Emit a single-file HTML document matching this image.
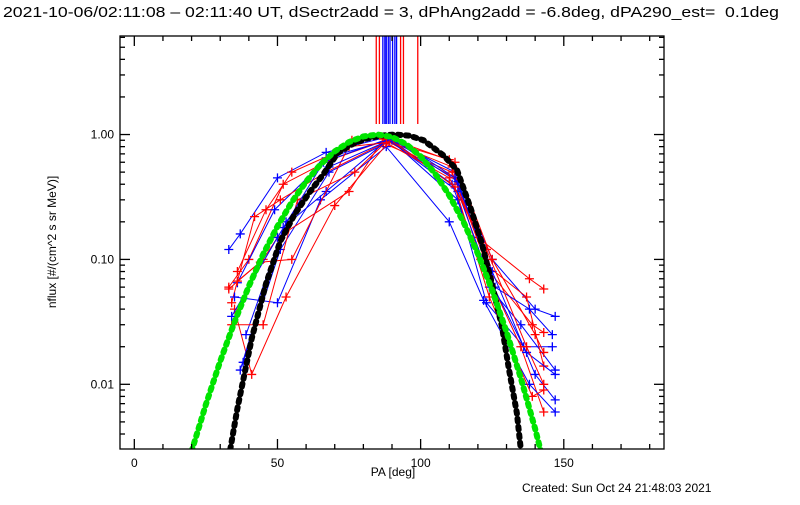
<!DOCTYPE html>
<html><head><meta charset="utf-8"><style>
body{margin:0;background:#fff;width:800px;height:500px;overflow:hidden}
svg text{font-family:"Liberation Sans",sans-serif;fill:#000}
</style></head><body>
<svg id="c" width="800" height="500" xmlns="http://www.w3.org/2000/svg">
<text x="3" y="17" font-size="15" textLength="776" lengthAdjust="spacingAndGlyphs" xml:space="preserve">2021-10-06/02:11:08 – 02:11:40 UT, dSectr2add = 3, dPhAng2add = -6.8deg, dPA290_est=  0.1deg</text>
<text x="393" y="476" font-size="12" text-anchor="middle">PA [deg]</text>
<text transform="translate(56,242) rotate(-90)" font-size="12" text-anchor="middle">nflux [#/(cm^2 s sr MeV)]</text>
<text x="522" y="492" font-size="12">Created: Sun Oct 24 21:48:03 2021</text>
<g id="plot"></g>
</svg>
<script>
const xTicks=[0,50,100,150];
const yTicks=[0.01,0.1,1];
const yTickLabels=["0.01","0.10","1.00"];
const vLineRed=[84.5,85.6,93.0,94.0,99.0];
const vLineBlue=[86.8,87.5,88.0,88.7,89.3,90.2,91.0,91.6];
const blueSeries=[
[[33,0.12],[37,0.16],[50,0.45],[67,0.72],[88,0.95],[112,0.5],[125,0.1],[140,0.04],[147,0.035]],
[[36,0.065],[49,0.25],[66,0.6],[89,0.93],[113,0.3],[123,0.045],[136,0.02],[146,0.02]],
[[38,0.015],[51,0.12],[68,0.5],[90,0.9],[111,0.4],[124,0.06],[135,0.03],[147,0.013]],
[[35,0.05],[50,0.045],[65,0.3],[88,0.8],[110,0.2],[122,0.047],[138,0.01],[147,0.006]],
[[37,0.013],[52,0.18],[67,0.35],[90,0.97],[112,0.45],[125,0.08],[140,0.012],[147,0.0075]],
[[39,0.025],[53,0.2],[68,0.55],[89,0.9],[113,0.35],[124,0.07],[137,0.018],[147,0.012]],
[[34,0.035],[50,0.15],[67,0.65],[90,0.92],[113,0.42],[126,0.06],[138,0.04],[146,0.025]]
];
const redSeries=[
[[33,0.06],[40,0.1],[52,0.4],[68,0.62],[88,0.9],[110,0.63],[120,0.15],[138,0.07],[143,0.058]],
[[34,0.045],[42,0.22],[51,0.3],[67,0.5],[87,0.85],[111,0.5],[124,0.08],[139,0.03],[143,0.026]],
[[33,0.058],[45,0.1],[50,0.15],[75,0.35],[87,0.92],[112,0.45],[121,0.1],[135,0.02],[143,0.006]],
[[35,0.04],[41,0.012],[53,0.05],[70,0.27],[89,0.88],[111,0.55],[123,0.09],[137,0.05],[143,0.014]],
[[36,0.067],[44,0.095],[55,0.1],[76,0.9],[88,0.95],[112,0.6],[125,0.1],[140,0.025],[143,0.018]],
[[34,0.03],[45,0.03],[57,0.3],[77,0.5],[89,0.92],[112,0.38],[124,0.05],[139,0.008],[143,0.009]],
[[36,0.08],[46,0.25],[55,0.5],[75,0.8],[88,0.86],[110,0.45],[123,0.12],[137,0.02],[143,0.01]]
];
const greenPA=[20,25,30,35,40,45,50,55,60,65,70,75,80,85,90,95,100,105,110,115,120,125,130,135,140,142];
const greenVal=[0.0029,0.0069,0.0153,0.0316,0.061,0.11,0.184,0.288,0.42,0.575,0.733,0.871,0.966,1.0,0.956,0.836,0.668,0.488,0.326,0.199,0.111,0.0565,0.0263,0.0112,0.0044,0.0029];
const blackPA=[33.5,36,41,46,51,56,61,66,71,76,81,86,91,96,101,108,112.7,117.4,121.4,124.9,128.4,130.7,133.6,135];
const blackVal=[0.003,0.0064,0.0232,0.064,0.14,0.23,0.34,0.48,0.71,0.834,0.927,0.98,1.0,0.98,0.9,0.68,0.52,0.26,0.134,0.064,0.029,0.0138,0.0059,0.003];

const L=120,R=664,T=36,B=449,XMIN=-5,XMAX=185,YLMIN=-2.518,YLMAX=0.789;
const X=v=>L+(v-XMIN)/(XMAX-XMIN)*(R-L);
const Y=v=>B-(Math.log10(v)-YLMIN)/(YLMAX-YLMIN)*(B-T);
const NS="http://www.w3.org/2000/svg";
const g=document.getElementById('plot');
function mk(tag,attrs,parent){const e=document.createElementNS(NS,tag);for(const k in attrs)e.setAttribute(k,attrs[k]);(parent||g).appendChild(e);return e;}

const clip=mk('clipPath',{id:'clp'});mk('rect',{x:L,y:T,width:R-L,height:B-T},clip);
const data=mk('g',{'clip-path':'url(#clp)'});



vLineRed.forEach(p=>{const l=mk('line',{x1:X(p),x2:X(p),y1:T,y2:124,stroke:'#f00','stroke-width':1.3},data);

});
vLineBlue.forEach(p=>{const l=mk('line',{x1:X(p),x2:X(p),y1:T,y2:124,stroke:'#00f','stroke-width':1.3},data);

});

function series(arr,col,name){
  const sg=mk('g',{},data);
  
  
  mk('polyline',{points:arr.map(p=>X(p[0])+','+Y(p[1])).join(' '),fill:'none',stroke:col,'stroke-width':1},sg);
  arr.forEach(p=>{const x=X(p[0]),y=Y(p[1]);
    const m=mk('path',{d:`M${x-4.5},${y}H${x+4.5}M${x},${y-4.5}V${y+4.5}`,stroke:col,'stroke-width':1.3},sg);
    
    });
}
const order=[];for(let i=0;i<7;i++){order.push(['b',i]);order.push(['r',i]);}
order.forEach(o=>{if(o[0]=='b')series(blueSeries[o[1]],'#00f','blue-series');else series(redSeries[o[1]],'#f00','red-series');});

function fit(pa,val,col,name){
  const p=mk('polyline',{points:pa.map((a,i)=>X(a)+','+Y(val[i])).join(' '),fill:'none',stroke:col,'stroke-width':6,'stroke-linecap':'round','stroke-dasharray':'3 5'},data);
  
  
}
fit(blackPA,blackVal,'#000','black-fit-curve');
fit(greenPA,greenVal,'#00e400','green-fit-curve');

const ax=mk('g',{stroke:'#000','stroke-width':1.3,fill:'none'});


mk('rect',{x:L,y:T,width:R-L,height:B-T},ax);
for(let v=0;v<=180;v+=10){const x=X(v),len=(v%50==0)?10:5;
  mk('line',{x1:x,x2:x,y1:B,y2:B-len},ax);mk('line',{x1:x,x2:x,y1:T,y2:T+len},ax);}
xTicks.forEach(v=>{const t=mk('text',{x:X(v),y:B+18,'font-size':12,'text-anchor':'middle'});t.textContent=v;
  
  });
for(let d=-3;d<=0;d++){for(let m=1;m<=9;m++){const v=m*Math.pow(10,d);
  if(v<Math.pow(10,YLMIN)||v>Math.pow(10,YLMAX))continue;const y=Y(v),len=m==1?10:5;
  mk('line',{x1:L,x2:L+len,y1:y,y2:y},ax);mk('line',{x1:R,x2:R-len,y1:y,y2:y},ax);}}
yTicks.forEach((v,i)=>{const t=mk('text',{x:L-6,y:Y(v)+4,'font-size':12,'text-anchor':'end'});t.textContent=yTickLabels[i];
  
  });
</script>
</body></html>
